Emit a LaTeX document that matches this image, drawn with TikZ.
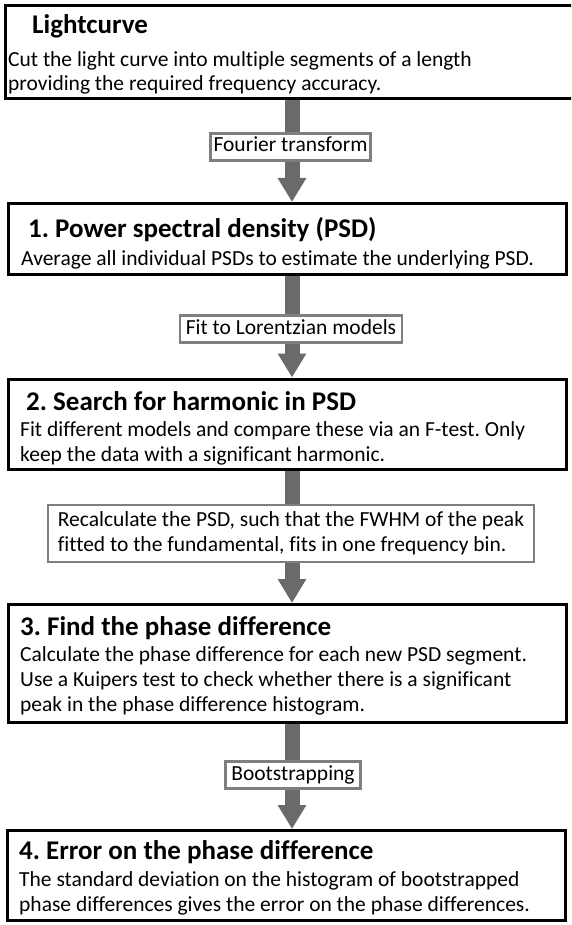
\documentclass[tikz,border=0pt]{standalone}
\usepackage{fontspec}
\setmainfont{Carlito}[Ligatures={NoCommon}]
\usetikzlibrary{arrows.meta}
\definecolor{arrowgray}{HTML}{6A6A6A}
\definecolor{labelgray}{HTML}{7F7F7F}
\tikzset{
  mainbox/.style={draw=black, line width=3pt, fill=white, inner sep=0pt, anchor=center},
  labelbox/.style={draw=labelgray, line width=2.5pt, fill=white, inner xsep=6pt, inner ysep=3.5pt,
     font=\fontsize{21.5}{25}\selectfont, align=left},
  onel/.style={text height=15pt, text depth=5pt},
  ttl/.style={font=\fontsize{27}{30}\selectfont\bfseries, anchor=base west, inner sep=0pt},
  bdy/.style={font=\fontsize{21.5}{25}\selectfont, anchor=base west, inner sep=0pt},
  flow/.style={draw=arrowgray, line width=15pt, -{Triangle[length=24pt,width=27pt]}}
}
\begin{document}
\frenchspacing
\begin{tikzpicture}[x=1pt,y=-1pt]
\useasboundingbox (0,0) rectangle (571,925);
\clip (0,0) rectangle (571,925);
\fill[white] (0,0) rectangle (571,925);
% main boxes
\node[mainbox, minimum width=634.5pt, minimum height=93pt] (b0) at (322.75,52) {};
\node[mainbox, minimum width=558pt, minimum height=71pt] (b1) at (287.5,239) {};
\node[mainbox, minimum width=558pt, minimum height=90pt] (b2) at (287.5,424) {};
\node[mainbox, minimum width=558pt, minimum height=118pt] (b3) at (287.5,663.5) {};
\node[mainbox, minimum width=558pt, minimum height=90pt] (b4) at (286.5,875.5) {};
% arrows
\coordinate (ax) at (292,0);
\draw[flow] (ax |- b0.south) -- (ax |- b1.north);
\draw[flow] (ax |- b1.south) -- (ax |- b2.north);
\draw[flow] (ax |- b2.south) -- (ax |- b3.north);
\draw[flow] (ax |- b3.south) -- (ax |- b4.north);
% labels on arrows
\node[labelbox, onel, inner xsep=3pt] (l1) at (290.5,147) {Fourier transform};
\node[labelbox, onel] (l2) at (291,329) {Fit to Lorentzian models};
\node[labelbox, inner xsep=10pt, inner ysep=7pt] (l3) at (291,533.5)
  {Recalculate the PSD, such that the FWHM of the peak\\fitted to the fundamental, fits in one frequency bin.};
\node[labelbox, onel] (l4) at (293,775) {Bootstrapping};
% texts of box 0
\node[ttl] (t0) at (32,34) {Lightcurve};
\node[bdy] (t0a) at (8,67) {Cut the light curve into multiple segments of a length};
\node[bdy] (t0b) at (8,91) {providing the required frequency accuracy.};
% box 1
\node[ttl] (t1) at (28,237) {1. Power spectral density (PSD)};
\node[bdy] (t1a) at (21,265) {Average all individual PSDs to estimate the underlying PSD.};
% box 2
\node[ttl] (t2) at (26,410) {2. Search for harmonic in PSD};
\node[bdy] (t2a) at (20,436) {Fit different models and compare these via an F-test. Only};
\node[bdy] (t2b) at (20,461) {keep the data with a significant harmonic.};
% box 3
\node[ttl] (t3) at (20,635) {3. Find the phase difference};
\node[bdy] (t3a) at (20,661) {Calculate the phase difference for each new PSD segment.};
\node[bdy] (t3b) at (20,686) {Use a Kuipers test to check whether there is a significant};
\node[bdy] (t3c) at (20,711) {peak in the phase difference histogram.};
% box 4
\node[ttl] (t4) at (19,859) {4. Error on the phase difference};
\node[bdy] (t4a) at (19,886) {The standard deviation on the histogram of bootstrapped};
\node[bdy] (t4b) at (19,911) {phase differences gives the error on the phase differences.};
\end{tikzpicture}
\end{document}
